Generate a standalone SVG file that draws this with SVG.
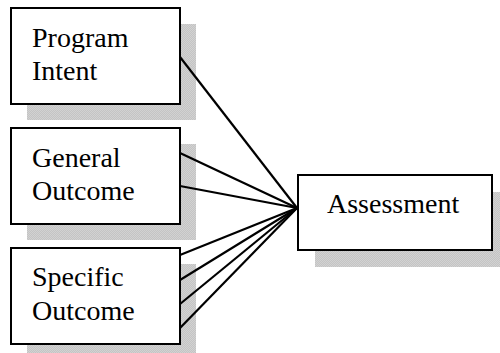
<svg xmlns="http://www.w3.org/2000/svg" width="500" height="353" viewBox="0 0 500 353">
<style>
.box{fill:#fff;stroke:#000;stroke-width:2}
.shadow{fill:url(#chk)}
.lbl{font-family:'Liberation Serif','DejaVu Serif',serif;font-size:28px;fill:#000}
.conn line{stroke:#000;stroke-width:2.2}
</style>
<defs>
<pattern id="chk" width="2" height="2" patternUnits="userSpaceOnUse">
<rect width="2" height="2" fill="#c4c4c4"/>
<rect width="1" height="1" fill="#d2d2d2"/>
<rect x="1" y="1" width="1" height="1" fill="#d2d2d2"/>
</pattern>
</defs>
<rect width="500" height="353" fill="#fff"/>
<g id="program-intent">
<rect class="shadow" x="27" y="24" width="169" height="96"/>
<rect class="box" x="11" y="8" width="169" height="96"/>
<text class="lbl" x="32" y="47" font-family="Liberation Serif, DejaVu Serif, serif">Program</text>
<text class="lbl" x="32" y="80" font-family="Liberation Serif, DejaVu Serif, serif">Intent</text>
</g>
<g id="general-outcome">
<rect class="shadow" x="27" y="144" width="169" height="96"/>
<rect class="box" x="11" y="128" width="169" height="96"/>
<text class="lbl" x="32" y="167" font-family="Liberation Serif, DejaVu Serif, serif">General</text>
<text class="lbl" x="32" y="200" font-family="Liberation Serif, DejaVu Serif, serif">Outcome</text>
</g>
<g id="specific-outcome">
<rect class="shadow" x="27" y="264" width="169" height="96"/>
<rect class="box" x="11" y="248" width="169" height="96"/>
<text class="lbl" x="32" y="286" font-family="Liberation Serif, DejaVu Serif, serif">Specific</text>
<text class="lbl" x="32" y="320" font-family="Liberation Serif, DejaVu Serif, serif">Outcome</text>
</g>
<g id="assessment">
<rect class="shadow" x="315" y="192" width="194" height="75"/>
<rect class="box" x="298" y="175" width="194" height="75"/>
<text class="lbl" x="327" y="213" font-family="Liberation Serif, DejaVu Serif, serif">Assessment</text>
</g>
<g class="conn" id="connectors">
<line x1="180" y1="57" x2="297" y2="208"/>
<line x1="180" y1="153" x2="297" y2="208"/>
<line x1="180" y1="186" x2="297" y2="208"/>
<line x1="180" y1="255" x2="297" y2="208"/>
<line x1="180" y1="280" x2="297" y2="208"/>
<line x1="180" y1="304" x2="297" y2="208"/>
<line x1="180" y1="328" x2="297" y2="208"/>
</g>
</svg>
